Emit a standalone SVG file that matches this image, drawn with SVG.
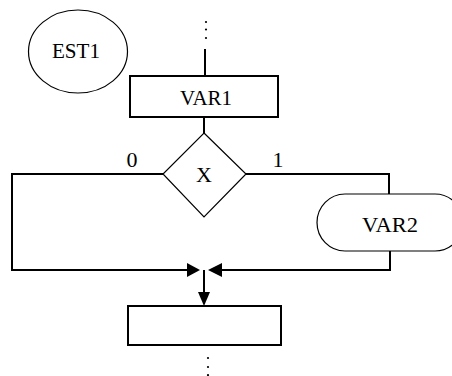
<svg xmlns="http://www.w3.org/2000/svg" width="452" height="376" viewBox="0 0 452 376">
<style>
.thin{fill:#fff;stroke:#000;stroke-width:1.2}
.box{fill:#fff;stroke:#000;stroke-width:2}
.ln{fill:none;stroke:#000;stroke-width:2}
.dot{fill:#000}
text{font-family:"Liberation Serif","Times New Roman",serif;font-size:22px;fill:#000;text-anchor:middle}
.ah{fill:#000}
</style>
<rect width="452" height="376" fill="#fff"/>
<g id="connectors">
<circle class="dot" cx="206" cy="22" r="1.1"/>
<circle class="dot" cx="206" cy="29.5" r="1.1"/>
<circle class="dot" cx="206" cy="38" r="1.1"/>
<line class="ln" x1="205" y1="49" x2="205" y2="76"/>
<line class="ln" x1="204" y1="117" x2="204" y2="133"/>
<polyline class="ln" points="163,174 12,174 12,270 188,270"/>
<polygon class="ah" points="187,263 200,270 187,277"/>
<polyline class="ln" points="246,174 389,174 389,194"/>
<polyline class="ln" points="390,251 390,270 221,270"/>
<polygon class="ah" points="222,263 208,270 222,277"/>
<line class="ln" x1="204" y1="270" x2="204" y2="293"/>
<polygon class="ah" points="198,292 210,292 204,306"/>
<circle class="dot" cx="208" cy="358" r="1.1"/>
<circle class="dot" cx="208" cy="367" r="1.1"/>
<circle class="dot" cx="208" cy="375" r="1.1"/>
<text x="132" y="167">0</text>
<text x="278" y="167">1</text>
</g>
<g id="est1">
<ellipse class="thin" cx="78" cy="51.5" rx="49.5" ry="41.5"/>
<text x="76" y="58" textLength="48" lengthAdjust="spacingAndGlyphs">EST1</text>
</g>
<g id="var1">
<rect class="box" x="130" y="76" width="148" height="41"/>
<text x="206" y="105" textLength="52" lengthAdjust="spacingAndGlyphs">VAR1</text>
</g>
<g id="decision">
<polygon class="thin" points="204,133 246,174 204,217 163,174"/>
<text x="204" y="182">X</text>
</g>
<g id="var2">
<rect class="thin" x="317" y="194" width="146" height="57" rx="28" ry="28.5"/>
<text x="390" y="232" textLength="56" lengthAdjust="spacingAndGlyphs">VAR2</text>
</g>
<g id="empty">
<rect class="box" x="128" y="306" width="153" height="39"/>
</g>
</svg>
